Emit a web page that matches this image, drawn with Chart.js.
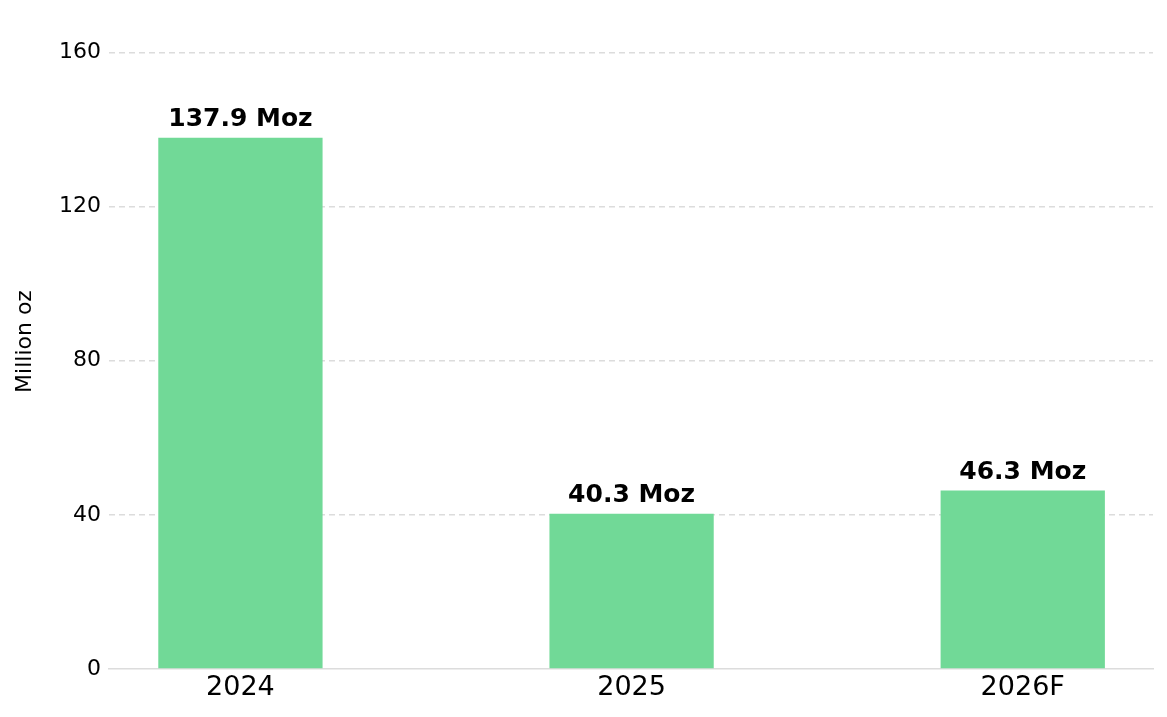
<!DOCTYPE html>
<html>
<head>
<meta charset="utf-8">
<script src="https://cdn.jsdelivr.net/npm/chart.js@4"></script>
<style>
  html, body { margin: 0; padding: 0; background: #fff; }
  #wrap { width: 1167px; height: 717px; }
</style>
</head>
<body>
<div id="wrap"><canvas id="myChart"></canvas></div>
<script>
var years = ['2024', '2025', '2026F']
var ounces = [137.9, 40.3, 46.3]
var yTicks = [0, 40, 80, 120, 160]
var barColor = '#71d997'

// one point per year, x is just the index
var points = years.map((y, i) => ({x: i, y: ounces[i]}))

const valueLabels = {
    id: 'valueLabels',
    afterDatasetsDraw(chart) {
        const ctx = chart.ctx
        const meta = chart.getDatasetMeta(0)
        ctx.save()
        ctx.font = 'bold 25px "DejaVu Sans"'
        ctx.fillStyle = '#000'
        ctx.textAlign = 'center'
        ctx.textBaseline = 'alphabetic'
        meta.data.forEach((bar, i) => {
            ctx.fillText(ounces[i].toFixed(1) + ' Moz', bar.x, bar.y - 12)
        })
        ctx.restore()
    }
}

const ctx = document.getElementById('myChart')
new Chart(ctx, {
    type: 'bar',
    data: {
        datasets: [{
            data: points,
            backgroundColor: barColor,
            borderWidth: 0,
            barPercentage: 0.42,
            categoryPercentage: 1
        }]
    },
    options: {
        responsive: true,
        maintainAspectRatio: false,
        animation: false,
        layout: { padding: { top: 14, right: 14, left: 0, bottom: 0 } },
        plugins: {
            legend: { display: false },
            tooltip: { enabled: false }
        },
        scales: {
            x: {
                type: 'linear',
                offset: false,
                bounds: 'data',
                min: -0.336,
                max: 2.333,
                afterBuildTicks: scale => { scale.ticks = years.map((y, i) => ({value: i})) },
                afterFit: scale => { scale.height = 48 },
                grid: { display: false, drawTicks: false },
                border: { display: true, color: '#dcdcdc', width: 1.5 },
                ticks: {
                    padding: 3,
                    color: '#000',
                    font: { family: 'DejaVu Sans', size: 27 },
                    callback: v => years[v]
                }
            },
            y: {
                min: 0,
                max: 170,
                afterBuildTicks: scale => { scale.ticks = yTicks.map(v => ({value: v})) },
                afterFit: scale => {
                    scale.width = 109
                    scale.paddingTop = 0
                    scale.paddingBottom = 0
                },
                grid: {
                    drawTicks: false,
                    color: c => c.tick && c.tick.value === 0 ? 'rgba(0,0,0,0)' : '#dcdcdc',
                    lineWidth: 1.5
                },
                border: { display: false, dash: [6, 4] },
                ticks: {
                    padding: 8,
                    color: '#000',
                    font: { family: 'DejaVu Sans', size: 22 }
                },
                title: {
                    display: true,
                    text: 'Million oz',
                    color: '#000',
                    font: { family: 'DejaVu Sans', size: 22 },
                    padding: { top: 12, bottom: 0 }
                }
            }
        }
    },
    plugins: [valueLabels]
})
</script>
</body>
</html>
